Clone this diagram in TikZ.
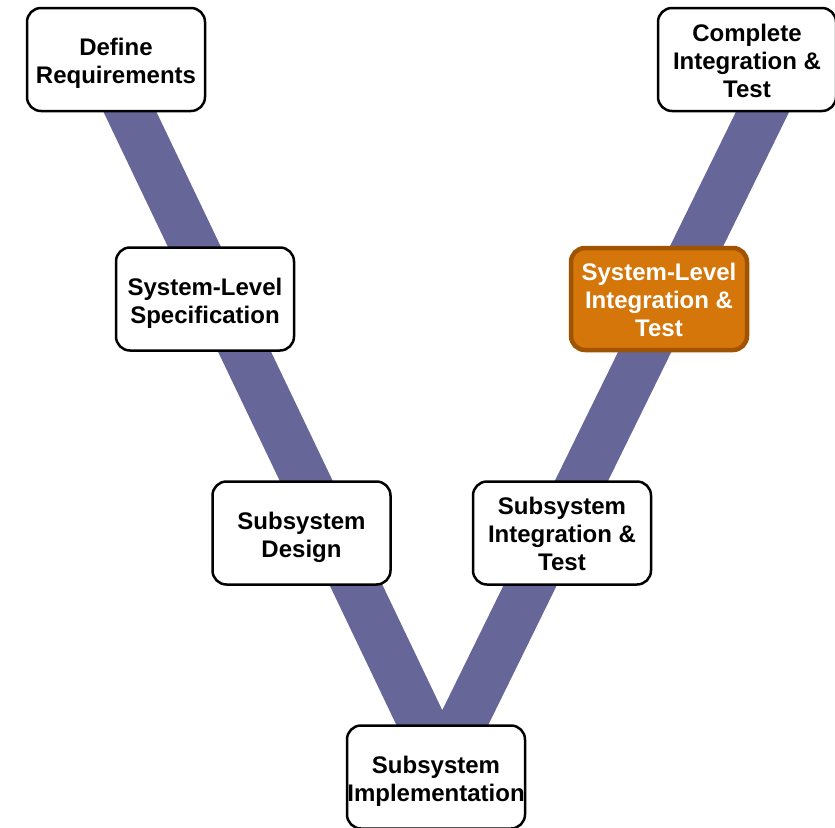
\documentclass[tikz,border=0pt]{standalone}
\usepackage{fontspec}
\setmainfont{Liberation Sans}
\definecolor{vband}{RGB}{102,102,153}
\definecolor{stageorange}{RGB}{212,118,10}
\definecolor{stageedge}{RGB}{160,84,0}

\begin{document}
\begin{tikzpicture} [x=1pt, y=-1pt,
  stage/.style={draw=black, line width=2.5pt, fill=white, rounded corners=14pt,
    minimum width=178pt, minimum height=103pt, inner sep=0pt, align=center,
    text height=48.8pt, text depth=0pt, font=\fontsize{24}{28}\selectfont\bfseries},
  threeline/.style={text height=75.8pt},
  current/.style={stage, fill=stageorange, draw=stageedge, line width=4.5pt,
    minimum width=176pt, minimum height=102pt, text=white}]
\useasboundingbox (0,0) rectangle (835,827);
\coordinate (vleft) at (95.6,40);
\coordinate (vbottom) at (442,765);
\coordinate (vright) at (797.8,40);
\draw[vband, line width=47.8pt, line join=miter] (vleft)--(vbottom)--(vright);
 \node[stage] (define) at (116,59.5) {Define\\Requirements};
 \node[stage] (syslevel) at (205,299) {System-Level\\Specification};
 \node[stage] (subdesign) at (301.5,533) {Subsystem\\Design};
 \node[stage] (subimpl) at (436,777) {Subsystem\\Implementation};
 \node[stage, threeline] (subinteg) at (562,533) {Subsystem\\Integration \&\\Test};
 \node[current, threeline] (sysinteg) at (659,299) {System-Level\\Integration \&\\Test};
 \node[stage, threeline] (complete) at (747,59.5) {Complete\\Integration \&\\Test};
\end{tikzpicture}
\end{document}
